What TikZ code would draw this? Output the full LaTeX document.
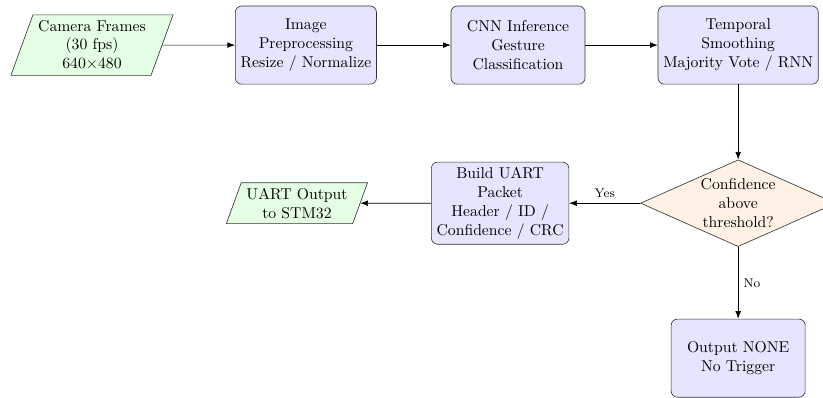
\documentclass[tikz,border=0pt]{standalone}
\usepackage{amsmath}
\usepackage{tikz}
\usetikzlibrary{arrows.meta, positioning, shapes.geometric}
\tikzstyle{io} = [trapezium, trapezium left angle=70, trapezium right angle=110, align=center, draw=black!80, fill=green!10]
\tikzstyle{process} = [rectangle, rounded corners, minimum width=3cm, minimum height=1.75cm, align=center, draw=black!80, fill=blue!10]
\tikzstyle{decision} = [diamond, aspect=2.25, inner sep=1pt, align=center, draw=black!80, fill=orange!10]
\tikzstyle{arrow} = [->,>=Latex]
\tikzstyle{choice} = [font=\footnotesize]

\begin{document}
\begin{tikzpicture}[node distance = 4.75cm]
    \useasboundingbox (0,0) rectangle (18.43,-8.91);

    \node (camera) [io] at (2.06,-1.01) {Camera Frames\\(30 fps)\\640$\times$480};
    \node (preproc) [process, right of=camera, xshift=0.04cm] {Image\\Preprocessing\\Resize / Normalize};
    \node (cnn) [process, right of=preproc] {CNN Inference\\Gesture\\Classification};
    \node (smoothing) [process, right of=cnn, xshift=0.18cm] {Temporal\\Smoothing\\Majority Vote / RNN};
    \node (confident) [decision, below of=smoothing, yshift=1.21cm] {Confidence\\above\\threshold?};
    \node (packet) [process, left of=confident, xshift=-0.58cm] {Build UART\\Packet\\Header / ID /\\Confidence / CRC};
    \node (uart) [io, left of=packet, xshift=0.2cm] {UART Output\\to STM32};
    \node (none) [process, below of=confident, yshift=1.28cm] {Output NONE\\No Trigger};

    \draw [arrow] (camera) -- (preproc);
    \draw [arrow] (preproc) -- (cnn);
    \draw [arrow] (cnn) -- (smoothing);
    \draw [arrow] (smoothing) -- (confident);
    \draw [arrow] (confident) -- node[choice, anchor=south] {Yes} (packet);
    \draw [arrow] (confident) -- node[choice, anchor=west] {No} (none);
    \draw [arrow] (packet) -- (uart);
\end{tikzpicture}
\end{document}
